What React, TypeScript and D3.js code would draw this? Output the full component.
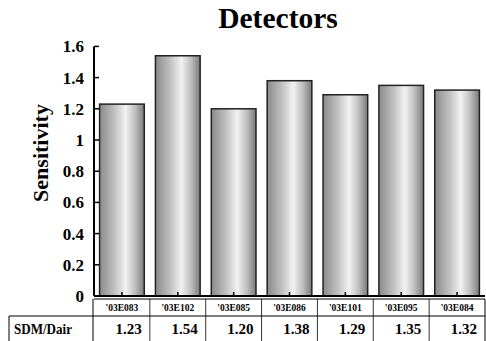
import React from "react";
import * as d3 from "d3";

const detectors = ["'03E083", "'03E102", "'03E085", "'03E086", "'03E101", "'03E095", "'03E084"];
const sensitivity = [1.23, 1.54, 1.2, 1.38, 1.29, 1.35, 1.32];
const yTicks = [0, 0.2, 0.4, 0.6, 0.8, 1, 1.2, 1.4, 1.6];
const rowLabel = "SDM/Dair";

const W = 486;
const H = 341;
const left = 94;
const right = 485;
const top = 46.4;
const base = 296;
const serif = "Liberation Serif, DejaVu Serif, serif";

export default function App() {
  const x = d3.scaleBand<string>().domain(detectors).range([left, right]).paddingInner(0.2).paddingOuter(0.1);
  const cells = d3.scaleBand<string>().domain(detectors).range([left, right]);
  const y = d3.scaleLinear().domain([0, 1.6]).range([base, top]);

  const txt = { fontFamily: serif, fontWeight: 700 } as React.CSSProperties;

  return (
    <svg width={W} height={H} style={{ position: "absolute", left: 0, top: 0 }}>
      <defs>
        <linearGradient id="cyl" x1="0" x2="1" y1="0" y2="0">
          <stop offset="0" stopColor="#8a8a8a" />
          <stop offset="0.35" stopColor="#c4c4c4" />
          <stop offset="0.58" stopColor="#f2f2f2" />
          <stop offset="0.8" stopColor="#bdbdbd" />
          <stop offset="1" stopColor="#7a7a7a" />
        </linearGradient>
      </defs>
      <rect width={W} height={H} fill="#fff" />
      <text x={278} y={28} textAnchor="middle" style={{ ...txt, fontSize: 29.5 }}>
        Detectors
      </text>
      <text transform={`translate(48,${153}) rotate(-90)`} textAnchor="middle" style={{ ...txt, fontSize: 22 }}>
        Sensitivity
      </text>

      {sensitivity.map((v, i) => (
        <rect
          key={i}
          x={x(detectors[i])}
          y={y(v)}
          width={x.bandwidth()}
          height={base - y(v)}
          fill="url(#cyl)"
          stroke="#222"
          strokeWidth={1.5}
        />
      ))}

      {yTicks.map((t) => (
        <g key={t}>
          <line x1={left} x2={left + 5} y1={y(t)} y2={y(t)} stroke="#000" strokeWidth={1.5} />
          <text x={84} y={y(t)} dy="0.35em" textAnchor="end" style={{ ...txt, fontSize: 17 }}>
            {d3.format("~g")(t)}
          </text>
        </g>
      ))}
      {detectors.map((d) => (
        <line
          key={d}
          x1={cells(d)! + cells.bandwidth() / 2}
          x2={cells(d)! + cells.bandwidth() / 2}
          y1={base}
          y2={base - 4}
          stroke="#000"
          strokeWidth={1.5}
        />
      ))}
      <line x1={left} x2={left} y1={top} y2={base} stroke="#000" strokeWidth={2} />
      <line x1={left} x2={right} y1={base} y2={base} stroke="#000" strokeWidth={2} />

      {/* data table */}
      <line x1={left} x2={right} y1={299} y2={299} stroke="#000" strokeWidth={1} />
      <line x1={9} x2={right} y1={316} y2={316} stroke="#000" strokeWidth={1} />
      <line x1={9} x2={9} y1={316} y2={H} stroke="#000" strokeWidth={1} />
      <line x1={left - 1} x2={left - 1} y1={299} y2={H} stroke="#000" strokeWidth={1} />
      <line x1={right} x2={right} y1={299} y2={H} stroke="#000" strokeWidth={1} />
      {detectors.map((d, i) => (
        <g key={d}>
          {i > 0 && <line x1={cells(d)} x2={cells(d)} y1={299} y2={H} stroke="#000" strokeWidth={0.8} />}
          <text x={cells(d)! + cells.bandwidth() / 2} y={311} textAnchor="middle" style={{ ...txt, fontSize: 9.5 }}>
            {d}
          </text>
          <text x={cells(d)! + cells.bandwidth() - 8} y={334} textAnchor="end" style={{ ...txt, fontSize: 15 }}>
            {d3.format(".2f")(sensitivity[i])}
          </text>
        </g>
      ))}
      <text x={14} y={334} textLength={58} lengthAdjust="spacingAndGlyphs" style={{ ...txt, fontSize: 15 }}>
        {rowLabel}
      </text>
    </svg>
  );
}
